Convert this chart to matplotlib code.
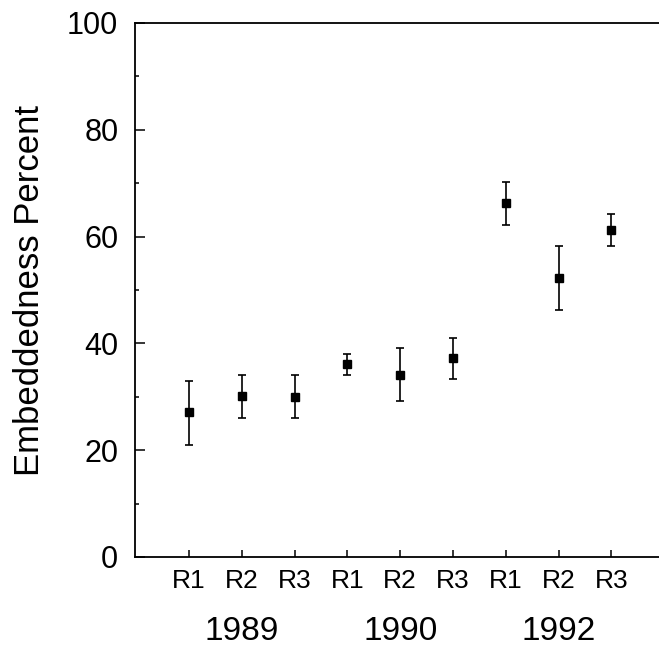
import matplotlib
matplotlib.use("Agg")
import matplotlib.pyplot as plt
from matplotlib.ticker import MultipleLocator

plt.rcParams['font.family'] = ['Liberation Sans', 'DejaVu Sans']

rounds = ["R1", "R2", "R3", "R1", "R2", "R3", "R1", "R2", "R3"]
years = ["1989", "1990", "1992"]
values = [27.1, 30.1, 30.0, 36.1, 34.1, 37.2, 66.3, 52.2, 61.3]
err_upper = [33.0, 34.0, 34.0, 38.1, 39.1, 41.1, 70.2, 58.2, 64.2]
err_lower = [21.0, 26.0, 26.0, 34.1, 29.2, 33.3, 62.2, 46.2, 58.2]

x = list(range(1, len(values) + 1))
yerr = [[v - lo for v, lo in zip(values, err_lower)],
        [hi - v for v, hi in zip(values, err_upper)]]

fig = plt.figure(figsize=(6.59, 6.51), dpi=100)
ax = fig.add_axes([0.2049, 0.1444, 0.7951, 0.8203])

ax.errorbar(x, values, yerr=yerr, fmt='s', color='black', ecolor='black',
            markersize=6, elinewidth=1.2, capsize=2.8, capthick=1.2)

ax.set_xlim(-0.02, 9.9)
ax.set_ylim(0, 100)
ax.spines['right'].set_visible(False)
for s in ['left', 'top', 'bottom']:
    ax.spines[s].set_linewidth(1.3)

ax.yaxis.set_major_locator(MultipleLocator(20))
ax.yaxis.set_minor_locator(MultipleLocator(10))
ax.tick_params(axis='y', which='major', direction='in', length=7, width=1.1,
               labelsize=22, pad=12)
ax.tick_params(axis='y', which='minor', direction='in', length=3, width=1.1)
ax.set_xticks(x)
ax.set_xticklabels(rounds)
ax.tick_params(axis='x', which='major', direction='in', length=5, width=1.1,
               labelsize=19, pad=9)

fig.text(29.5 / 659, 1 - 291 / 651, "Embeddedness Percent", rotation=90,
         ha='center', va='center', fontsize=25)

for i, yr in enumerate(years):
    ax.text(x[i * 3 + 1], -0.168, yr, transform=ax.get_xaxis_transform(),
            ha='center', va='bottom', fontsize=24)

fig.savefig("out.png", dpi=100)
